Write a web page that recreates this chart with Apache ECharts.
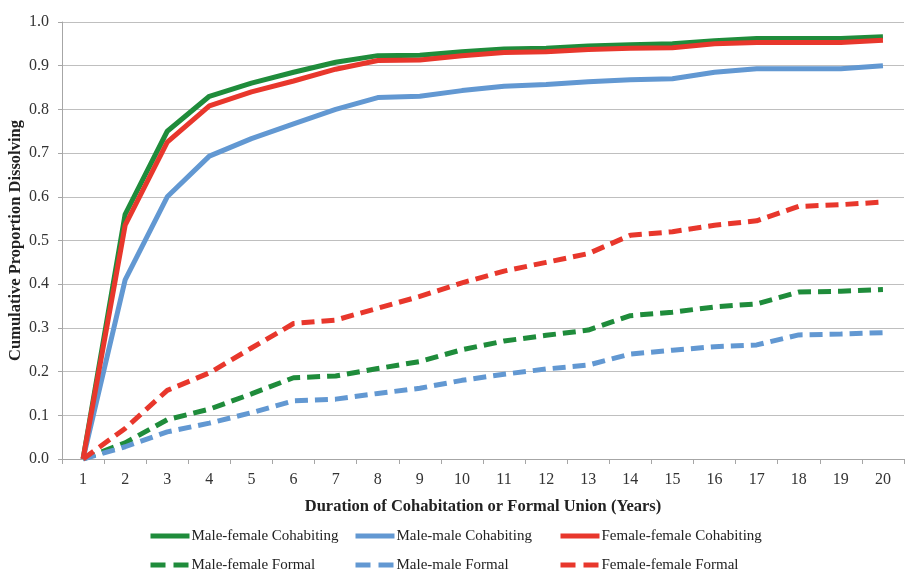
<!DOCTYPE html>
<html>
<head>
<meta charset="utf-8">
<script src="https://cdn.jsdelivr.net/npm/echarts@6/dist/echarts.min.js"></script>
<style>
  html, body { margin: 0; padding: 0; background: #fff; }
  #chart { width: 917px; height: 578px; }
</style>
</head>
<body>
<div id="chart"></div>
<script>
var years = ['1','2','3','4','5','6','7','8','9','10','11','12','13','14','15','16','17','18','19','20'];
var yTicks = [0, 0.1, 0.2, 0.3, 0.4, 0.5, 0.6, 0.7, 0.8, 0.9, 1.0];

var mfCohab = [0, 0.56, 0.75, 0.83, 0.86, 0.885, 0.908, 0.923, 0.924, 0.932, 0.938, 0.94, 0.945, 0.948, 0.95, 0.957, 0.962, 0.962, 0.962, 0.966];
var mmCohab = [0, 0.41, 0.6, 0.693, 0.733, 0.767, 0.8, 0.827, 0.83, 0.843, 0.853, 0.857, 0.863, 0.868, 0.87, 0.885, 0.893, 0.893, 0.893, 0.9];
var ffCohab = [0, 0.535, 0.725, 0.808, 0.84, 0.865, 0.892, 0.912, 0.913, 0.923, 0.93, 0.932, 0.937, 0.94, 0.941, 0.95, 0.953, 0.953, 0.953, 0.958];
var mfFormal = [0, 0.037, 0.09, 0.114, 0.149, 0.186, 0.19, 0.207, 0.223, 0.25, 0.27, 0.283, 0.295, 0.328, 0.336, 0.348, 0.355, 0.382, 0.384, 0.388];
var mmFormal = [0, 0.028, 0.062, 0.082, 0.106, 0.133, 0.137, 0.15, 0.162, 0.18, 0.194, 0.206, 0.215, 0.24, 0.249, 0.257, 0.261, 0.284, 0.286, 0.289];
var ffFormal = [0, 0.07, 0.157, 0.197, 0.254, 0.31, 0.318, 0.345, 0.372, 0.403, 0.43, 0.45, 0.47, 0.512, 0.52, 0.535, 0.545, 0.578, 0.582, 0.588];

var green = '#1f8c3b';
var blue = '#6298d2';
var red = '#e8372c';
var serif = '"Liberation Serif", "DejaVu Serif", serif';

function line(name, data, color, dashed) {
  return {
    name: name,
    type: 'line',
    data: data,
    showSymbol: false,
    symbol: 'none',
    silent: true,
    lineStyle: {
      color: color,
      width: 5,
      type: dashed ? [13, 7] : 'solid',
      cap: 'butt'
    },
    itemStyle: { color: color }
  };
}

// a legend holding a single entry, placed by hand like the original
function legendItem(left, top, name, dashed) {
  return {
    orient: 'horizontal',
    left: left,
    top: top,
    padding: 0,
    itemWidth: 39,
    itemHeight: 14,
    itemStyle: { opacity: 0 },
    lineStyle: { width: 5 },
    data: [dashed ? { name: name, lineStyle: { type: [15, 8], width: 5 } } : { name: name }],
    textStyle: { fontFamily: serif, fontSize: 15, color: '#222', lineHeight: 16, padding: [0, 0, 0, -3] }
  };
}

var chart = echarts.init(document.getElementById('chart'));
chart.setOption({
  animation: false,
  backgroundColor: '#fff',
  grid: { left: 62, right: 13, top: 22, bottom: 119, outerBoundsMode: 'none', containLabel: false },
  legend: [
    legendItem(148, 528, 'Male-female Cohabiting', false),
    legendItem(353, 528, 'Male-male Cohabiting', false),
    legendItem(558, 528, 'Female-female Cohabiting', false),
    legendItem(148, 557, 'Male-female Formal', true),
    legendItem(353, 557, 'Male-male Formal', true),
    legendItem(558, 557, 'Female-female Formal', true)
  ],
  xAxis: {
    type: 'category',
    data: years,
    boundaryGap: true,
    name: 'Duration of Cohabitation or Formal Union (Years)',
    nameLocation: 'middle',
    nameGap: 39,
    nameMoveOverlap: false,
    nameTextStyle: { fontFamily: serif, fontSize: 16.5, fontWeight: 'bold', color: '#222' },
    axisLine: { lineStyle: { color: '#a6a6a6', width: 1 } },
    axisTick: { show: true, length: 5, lineStyle: { color: '#a6a6a6' } },
    axisLabel: { fontFamily: serif, fontSize: 16, color: '#333', margin: 13 },
    splitLine: { show: false }
  },
  yAxis: {
    type: 'value',
    min: 0,
    max: 1,
    interval: 0.1,
    name: 'Cumulative Proportion Dissolving',
    nameLocation: 'middle',
    nameGap: 38,
    nameMoveOverlap: false,
    nameTextStyle: { fontFamily: serif, fontSize: 16.5, fontWeight: 'bold', color: '#222' },
    axisLine: { show: true, lineStyle: { color: '#a6a6a6', width: 1 } },
    axisTick: { show: true, length: 4, lineStyle: { color: '#a6a6a6' } },
    axisLabel: {
      fontFamily: serif, fontSize: 16, color: '#333', margin: 13,
      formatter: function (v) {
        var t = yTicks.filter(function (k) { return Math.abs(k - v) < 1e-6; });
        return t.length ? t[0].toFixed(1) : '';
      }
    },
    splitLine: { lineStyle: { color: '#bfbfbf', width: 1 } }
  },
  series: [
    line('Male-female Cohabiting', mfCohab, green, false),
    line('Male-male Cohabiting', mmCohab, blue, false),
    line('Female-female Cohabiting', ffCohab, red, false),
    line('Male-female Formal', mfFormal, green, true),
    line('Male-male Formal', mmFormal, blue, true),
    line('Female-female Formal', ffFormal, red, true)
  ]
});
</script>
</body>
</html>
